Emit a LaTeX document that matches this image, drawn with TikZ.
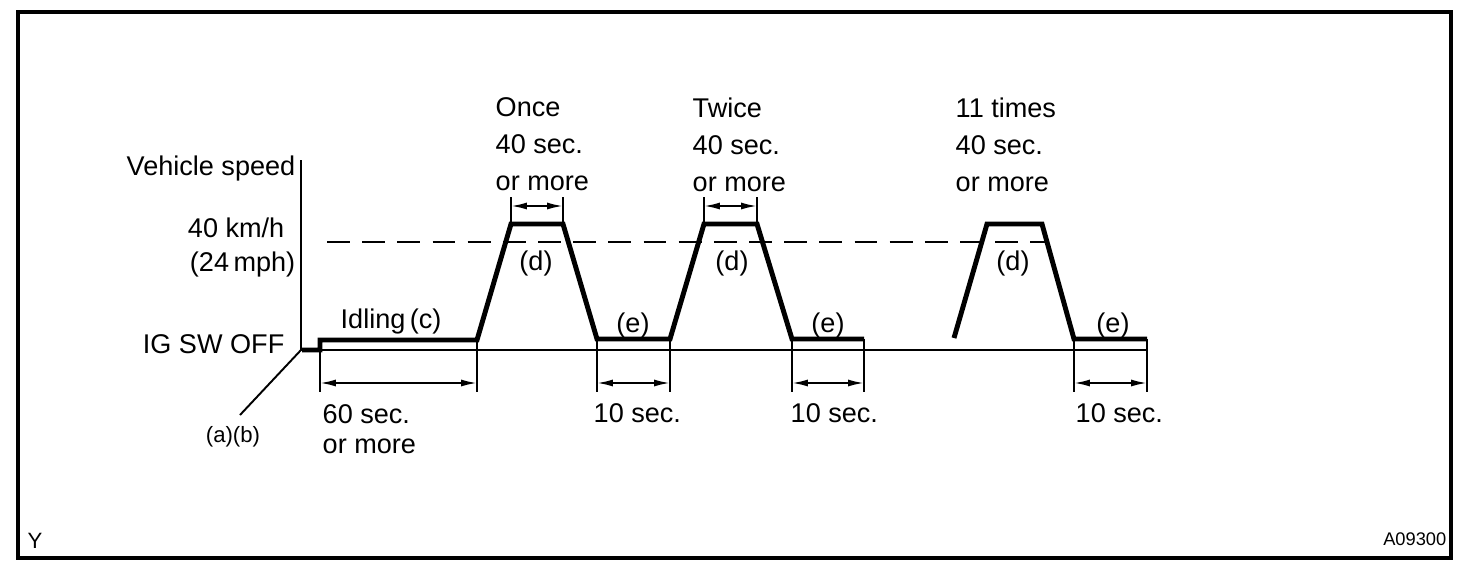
\documentclass[tikz,border=0pt]{standalone}
\usepackage{fontspec}
\setmainfont{Liberation Sans}
\usetikzlibrary{arrows.meta,calc}

\tikzset{
  profile/.style={line width=1.4pt},
  thinline/.style={line width=0.55pt},
  dimarrow/.style={line width=0.55pt, {Latex[length=4.5pt,width=2pt]}-{Latex[length=4.5pt,width=2pt]}},
  lbl/.style={inner sep=0pt, font=\fontsize{7.7}{10.5}\selectfont},
  smalllbl/.style={inner sep=0pt, font=\fontsize{6.3}{7}\selectfont},
}

\begin{document}
\begin{tikzpicture}[x=0.01cm, y=-0.01cm]
  \useasboundingbox (0,0) rectangle (1472,572);

  % frame
  \draw[line width=1.1pt] (18,12) rectangle (1451,558);
  \node[smalllbl, anchor=base west] (ycode) at (27,548) {Y};
  \node[inner sep=0pt, font=\fontsize{5.2}{6}\selectfont, anchor=base east] (figno) at (1447,545) {A09300};

  % axes
  \coordinate (o) at (301,350);
  \coordinate (top) at (301,160);
  \coordinate (tend) at (1147,350);
  \coordinate (diag) at (240,415);
  \draw[thinline] (top) -- (o) -- (tend);
  \draw[thinline] (o) -- (diag);

  % axis labels
  \node[lbl, anchor=base east] (speed) at (296,175) {Vehicle speed};
  \node[lbl, anchor=base east] (kmh) at (285,237) {40 km/h};
  \node[lbl, anchor=base east] (mph) at (296,271) {(24\,mph)};
  \node[lbl, anchor=base east] (igoff) at (285,353) {IG SW OFF};
  \node[smalllbl, anchor=base] (ab) at (233,442) {(a)(b)};

  % 40 km/h level
  \draw[thinline, dash pattern=on 6.5pt off 3.5pt] (327,242) -- (1045,242);

  % speed profile
  \coordinate (i0) at (320,340);
  \coordinate (i1) at (477,340);
  \coordinate (p1) at (511,224);
  \coordinate (p2) at (563,224);
  \coordinate (e1) at (597,339);
  \coordinate (e2) at (670,339);
  \coordinate (q1) at (704,224);
  \coordinate (q2) at (757,224);
  \coordinate (f1) at (792,339);
  \coordinate (f2) at (864,339);
  \coordinate (r0) at (954,338);
  \coordinate (r1) at (987,224);
  \coordinate (r2) at (1042,224);
  \coordinate (g1) at (1074,339);
  \coordinate (g2) at (1147,339);
  \draw[profile] (302,350) -- (320,350) -- (i0) -- (i1) -- (p1) -- (p2) -- (e1) -- (e2)
    -- (q1) -- (q2) -- (f1) -- (f2);
  \draw[profile] (r0) -- (r1) -- (r2) -- (g1) -- (g2);

  \node[lbl, anchor=base west] (idle) at (340,328) {Idling\,(c)};
  \node[lbl] (d1) at (536,263) {(d)};
  \node[lbl] (d2) at (732,263) {(d)};
  \node[lbl] (d3) at (1013,263) {(d)};
  \node[lbl] (e1l) at (633,325) {(e)};
  \node[lbl] (e2l) at (828,325) {(e)};
  \node[lbl] (e3l) at (1113,325) {(e)};

  % 40 sec. dimensions
  \foreach \a/\b in {p1/p2, q1/q2} {
    \draw[thinline] (\a) -- ++(0,-27);
    \draw[thinline] (\b) -- ++(0,-27);
    \draw[dimarrow] ($(\a)+(0,-18)$) -- ($(\b)+(0,-18)$);
  }
  \node[lbl, anchor=north west, align=left] (once) at (495,97) {Once\\40 sec.\\or more};
  \node[lbl, anchor=north west, align=left] (twice) at (692,97) {Twice\\40 sec.\\or more};
  \node[lbl, anchor=north west, align=left] (eleven) at (955,97) {11 times\\40 sec.\\or more};

  % 60 sec. dimension
  \draw[thinline] (320,350) -- (320,392);
  \draw[thinline] (i1) -- (477,392);
  \draw[dimarrow] (320,383) -- (477,383);
  \node[lbl, font=\fontsize{7.7}{8.6}\selectfont, anchor=north west, align=left] (sixty) at (322,404) {60 sec.\\or more};

  % 10 sec. dimensions
  \foreach \a/\b/\t in {e1/e2/593, f1/f2/790, g1/g2/1075} {
    \draw[thinline] (\a) -- ++(0,53);
    \draw[thinline] (\b) -- ++(0,53);
    \draw[dimarrow] ($(\a)+(0,44)$) -- ($(\b)+(0,44)$);
    \node[lbl, anchor=base west] (ten\t) at (\t,422) {10 sec.};
  }
\end{tikzpicture}
\end{document}
